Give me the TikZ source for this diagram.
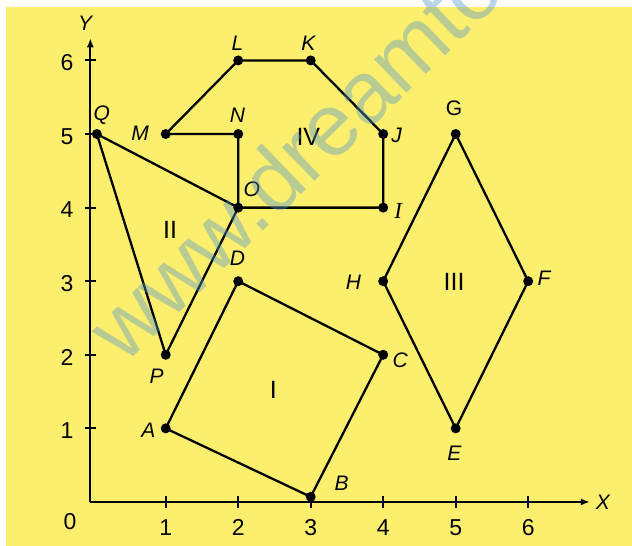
\documentclass[tikz,border=0pt]{standalone}
\usepackage{fontspec}
\setmainfont{Liberation Sans}
\newfontfamily\tnr{Liberation Serif}
\usetikzlibrary{arrows.meta}
\definecolor{bgyellow}{RGB}{253,239,110}
\definecolor{wmblue}{RGB}{82,150,200}
\begin{document}
\begin{tikzpicture}[x=36.25pt,y=36.8pt,
  edge/.style={line width=1.15pt, line join=round, line cap=round},
  axisline/.style={line width=1pt},
  dot/.style={circle, fill=black, inner sep=0pt, minimum size=5pt},
  lab/.style={font=\fontsize{10.5}{12}\selectfont\itshape, inner sep=0pt},
  num/.style={font=\fontsize{11.5}{13}\selectfont, inner sep=0pt},
  roman/.style={font=\fontsize{12.5}{14}\selectfont, inner sep=0pt},
  tip/.style={-{Latex[length=4.5pt,width=3.6pt]}}]
\useasboundingbox (-1.286,-0.598) rectangle (7.432,6.821);
\fill[bgyellow] (-1.203,-0.598) rectangle (7.432,6.726);

% axes
\coordinate (origin) at (-0.04,0);
\coordinate (xend) at (6.85,0);
\coordinate (yend) at (-0.04,6.30);
\draw[axisline,tip] (origin) -- (xend);
\draw[axisline,tip] (origin) -- (yend);
\foreach \i in {1,...,6}{
  \draw[axisline] (\i,-0.08) -- (\i,0.08);
  \draw[axisline] (-0.12,\i) -- (0.04,\i);
  \node[num] (xt\i) at (\i,-0.353) {\i};
  \node[num] (yt\i) at (-0.36,\i-0.03) {\i};
}
\node[num] (zero) at (-0.32,-0.27) {0};
\node[lab] (xlab) at (7.03,0) {X};
\node[lab] (ylab) at (-0.113,6.50) {Y};

% vertices
\coordinate (Q) at (0.05,5);
\coordinate (M) at (1,5);
\coordinate (N) at (2,5);
\coordinate (L) at (2,6);
\coordinate (K) at (3,6);
\coordinate (J) at (4,5);
\coordinate (I) at (4,4);
\coordinate (O) at (2,4);
\coordinate (P) at (1,2);
\coordinate (A) at (1,1);
\coordinate (B) at (3,0.07);
\coordinate (C) at (4,2);
\coordinate (D) at (2,3);
\coordinate (E) at (5,1);
\coordinate (F) at (6,3);
\coordinate (G) at (5,5);
\coordinate (H) at (4,3);

% shapes
\draw[edge] (M) -- (L) -- (K) -- (J) -- (I) -- (O) -- (N) -- cycle;
\draw[edge] (Q) -- (O) -- (P) -- cycle;
\draw[edge] (A) -- (B) -- (C) -- (D) -- cycle;
\draw[edge] (G) -- (F) -- (E) -- (H) -- cycle;

\foreach \p in {Q,M,N,L,K,J,I,O,P,A,B,C,D,E,F,G,H}
  \node[dot] (d\p) at (\p) {};

% labels
\node[lab] (lQ) at (0.117,5.258) {Q};
\node[lab] (lM) at (0.646,5.01) {M};
\node[lab] (lN) at (1.988,5.258) {N};
\node[lab] (lL) at (1.988,6.232) {L};
\node[lab] (lK) at (2.967,6.232) {K};
\node[lab] (lJ) at (4.186,4.986) {J};
\node[lab,font=\fontsize{11.5}{13}\selectfont\tnr\itshape] (lI) at (4.208,3.958) {I};
\node[lab] (lO) at (2.186,4.249) {O};
\node[lab] (lD) at (1.988,3.311) {D};
\node[lab] (lP) at (0.876,1.712) {P};
\node[lab] (lA) at (0.76,0.978) {A};
\node[lab] (lC) at (4.234,1.929) {C};
\node[lab] (lB) at (3.428,0.254) {B};
\node[lab] (lE) at (4.981,0.662) {E};
\node[lab] (lH) at (3.588,2.98) {H};
\node[lab] (lF) at (6.218,3.043) {F};
\node[lab,font=\fontsize{10.5}{12}\selectfont] (lG) at (4.977,5.353) {G};
\node[roman] (rI) at (2.484,1.522) {I};
\node[roman] (rII) at (1.059,3.696) {II};
\node[roman] (rIII) at (4.977,2.993) {III};
\node[roman] (rIV) at (2.967,4.963) {IV};

% watermark
\begin{scope}
\clip (-1.286,-0.598) rectangle (7.432,6.821);
\node[font=\fontsize{44}{50}\selectfont, text=wmblue, text opacity=0.4,
      rotate=44, anchor=base west, inner sep=0pt] (wm) at (0.425,1.848) {www.dreamto};
\end{scope}
\end{tikzpicture}
\end{document}
